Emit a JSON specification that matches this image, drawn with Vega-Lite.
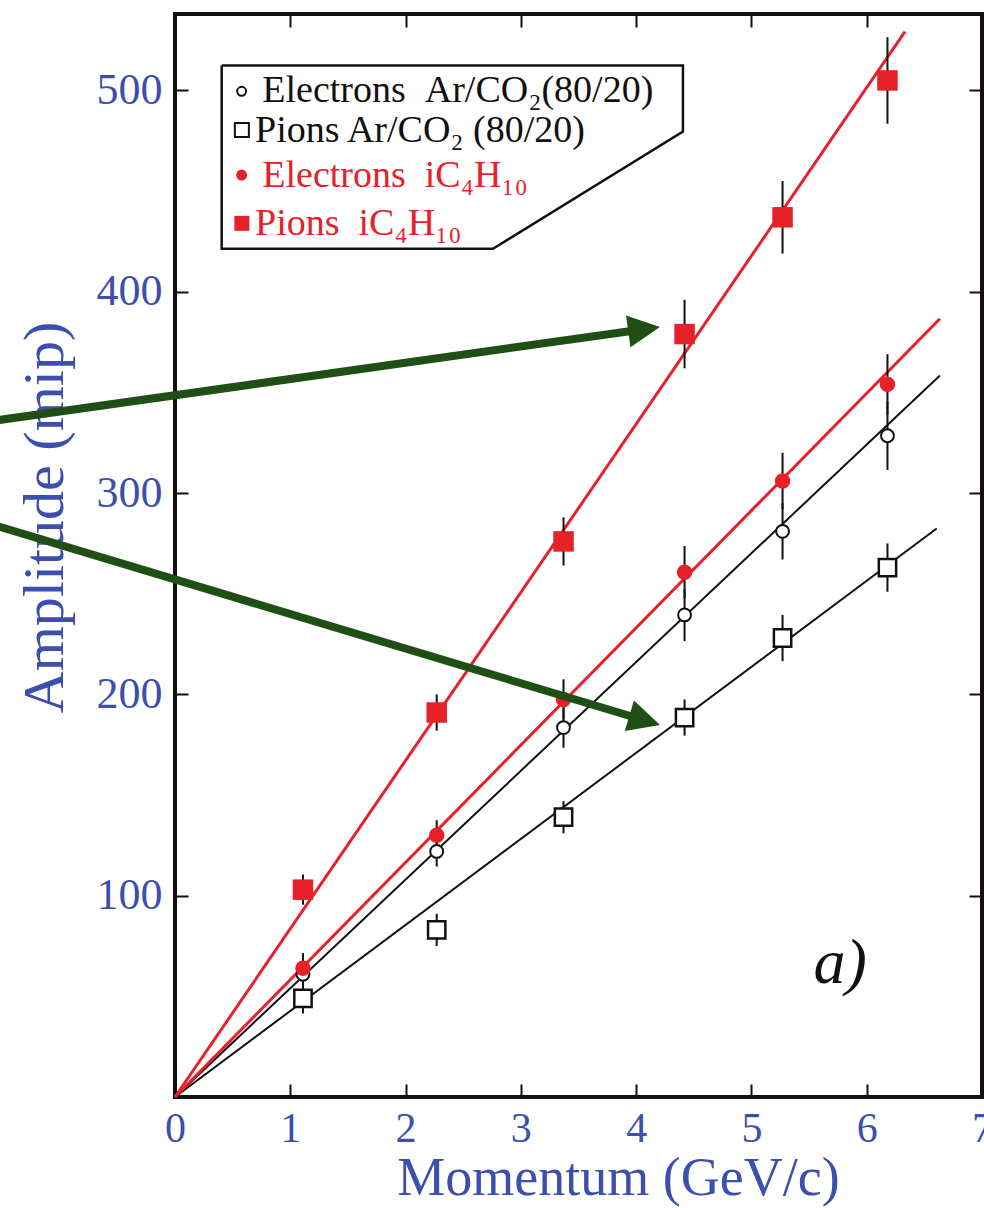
{
  "$schema": "https://vega.github.io/schema/vega-lite/v6.json",
  "width": 807,
  "height": 1083,
  "autosize": "none",
  "padding": {"left": 175, "top": 14, "right": 2, "bottom": 111},
  "background": "white",
  "config": {"view": {"stroke": "#151010", "strokeWidth": 4}, "font": "Liberation Serif"},
  "datasets": {
    "fits": [
      {"s": "eAr", "g": "Ar", "x": 0, "y": 0}, {"s": "eAr", "g": "Ar", "x": 6.635, "y": 358.4},
      {"s": "pAr", "g": "Ar", "x": 0, "y": 0}, {"s": "pAr", "g": "Ar", "x": 6.607, "y": 282.4},
      {"s": "eIso", "g": "Iso", "x": 0, "y": 0}, {"s": "eIso", "g": "Iso", "x": 6.635, "y": 386.6},
      {"s": "pIso", "g": "Iso", "x": 0, "y": 0}, {"s": "pIso", "g": "Iso", "x": 6.332, "y": 529.2}
    ],
    "pts": [
      {"s": "eAr", "x": 1.11, "y": 61, "lo": 54, "hi": 68},
      {"s": "eAr", "x": 2.27, "y": 122, "lo": 114.5, "hi": 129.5},
      {"s": "eAr", "x": 3.37, "y": 183.5, "lo": 173.5, "hi": 193.5},
      {"s": "eAr", "x": 4.42, "y": 239.5, "lo": 226.5, "hi": 252.5},
      {"s": "eAr", "x": 5.27, "y": 281, "lo": 267, "hi": 295},
      {"s": "eAr", "x": 6.18, "y": 328.5, "lo": 311.5, "hi": 345.5},
      {"s": "pAr", "x": 1.11, "y": 49, "lo": 41.5, "hi": 56.5},
      {"s": "pAr", "x": 2.27, "y": 83, "lo": 75, "hi": 91},
      {"s": "pAr", "x": 3.37, "y": 139, "lo": 131, "hi": 147},
      {"s": "pAr", "x": 4.42, "y": 188.5, "lo": 179.5, "hi": 197.5},
      {"s": "pAr", "x": 5.27, "y": 228, "lo": 216.5, "hi": 239.5},
      {"s": "pAr", "x": 6.18, "y": 263, "lo": 251, "hi": 275},
      {"s": "eIso", "x": 1.11, "y": 64, "lo": 56.5, "hi": 71.5},
      {"s": "eIso", "x": 2.27, "y": 130, "lo": 122.5, "hi": 137.5},
      {"s": "eIso", "x": 3.37, "y": 197.5, "lo": 187.5, "hi": 207.5},
      {"s": "eIso", "x": 4.42, "y": 260.7, "lo": 247.7, "hi": 273.7},
      {"s": "eIso", "x": 5.27, "y": 306, "lo": 292, "hi": 320},
      {"s": "eIso", "x": 6.18, "y": 354, "lo": 339, "hi": 369},
      {"s": "pIso", "x": 1.11, "y": 103, "lo": 95.5, "hi": 110.5},
      {"s": "pIso", "x": 2.27, "y": 191, "lo": 182, "hi": 200},
      {"s": "pIso", "x": 3.37, "y": 276, "lo": 264, "hi": 288},
      {"s": "pIso", "x": 4.42, "y": 379, "lo": 362, "hi": 396},
      {"s": "pIso", "x": 5.27, "y": 437, "lo": 419, "hi": 455},
      {"s": "pIso", "x": 6.18, "y": 505, "lo": 483.5, "hi": 526.5}
    ],
    "box": [
      {"i": 0, "x": 0.405, "y": 512.4},
      {"i": 1, "x": 4.406, "y": 512.4},
      {"i": 2, "x": 4.406, "y": 479.6},
      {"i": 3, "x": 2.758, "y": 421.4},
      {"i": 4, "x": 0.405, "y": 421.4},
      {"i": 5, "x": 0.405, "y": 512.4}
    ],
    "legsym": [
      {"s": "eAr", "x": 0.578, "y": 499.6},
      {"s": "pAr", "x": 0.58, "y": 480.4},
      {"s": "eIso", "x": 0.578, "y": 458},
      {"s": "pIso", "x": 0.58, "y": 434}
    ],
    "legtxt": [
      {"g": "Ar", "x": 0.757, "y": 494.2, "t": "Electrons\u00a0\u00a0Ar/CO₂(80/20)"},
      {"g": "Ar", "x": 0.694, "y": 474.6, "t": "Pions Ar/CO₂ (80/20)"},
      {"g": "Iso", "x": 0.757, "y": 452.1, "t": "Electrons\u00a0\u00a0iC₄H₁₀"},
      {"g": "Iso", "x": 0.694, "y": 428.3, "t": "Pions\u00a0\u00a0iC₄H₁₀"}
    ],
    "arrows": [
      {"a": 1, "x": -1.6, "y": 335.7}, {"a": 1, "x": 3.99, "y": 380.8},
      {"a": 2, "x": -1.6, "y": 284.6}, {"a": 2, "x": 3.999, "y": 188.4}
    ],
    "heads": [
      {"a": 1, "x": 4.069, "y": 381.4},
      {"a": 2, "x": 4.074, "y": 187.1}
    ],
    "ann": [{"x": 5.77, "y": 56.7, "t": "a)"}]
  },
  "resolve": {"axis": {"x": "independent", "y": "independent"}},
  "layer": [
    {
      "data": {"name": "fits"},
      "transform": [{"filter": "datum.g === 'Ar'"}],
      "mark": {"type": "line", "color": "#111111", "strokeWidth": 2},
      "encoding": {
        "x": {"field": "x", "type": "quantitative", "scale": {"domain": [0, 7], "nice": false, "zero": false},
          "axis": {"values": [0, 1, 2, 3, 4, 5, 6, 7], "format": "d", "labelFont": "Liberation Serif", "labelFontSize": 42, "labelColor": "#3c4fae",
            "tickSize": -13, "tickColor": "#111111", "tickWidth": 2, "labelPadding": 24, "domain": false, "grid": false, "labelFlush": false, "labelOverlap": false,
            "title": "Momentum (GeV/c)", "titleFont": "Liberation Serif", "titleFontSize": 54, "titleFontWeight": "normal", "titleColor": "#3c4fae",
            "titleX": 443, "titleY": 97, "titleAlign": "center", "titleBaseline": "alphabetic"}},
        "y": {"field": "y", "type": "quantitative", "scale": {"domain": [0, 538], "nice": false, "zero": false},
          "axis": {"values": [100, 200, 300, 400, 500], "format": "d", "labelFont": "Liberation Serif", "labelFontSize": 44, "labelColor": "#3c4fae",
            "tickSize": -13, "tickColor": "#111111", "tickWidth": 2, "labelPadding": 26, "domain": false, "grid": false, "labelOverlap": false,
            "title": "Amplitude (mip)", "titleFont": "Liberation Serif", "titleFontSize": 58, "titleFontWeight": "normal", "titleColor": "#3c4fae",
            "titleX": -113, "titleY": 503, "titleAngle": 270, "titleAlign": "center", "titleBaseline": "alphabetic"}},
        "detail": {"field": "s"}
      }
    },
    {
      "data": {"name": "fits"},
      "transform": [{"filter": "datum.g === 'Iso'"}],
      "mark": {"type": "line", "color": "#e62129", "strokeWidth": 3},
      "encoding": {
        "x": {"field": "x", "type": "quantitative", "scale": {"domain": [0, 7], "nice": false, "zero": false},
          "axis": {"orient": "top", "values": [1, 2, 3, 4, 5, 6], "labels": false, "tickSize": -13, "tickColor": "#111111", "tickWidth": 2, "domain": false, "grid": false, "title": null}},
        "y": {"field": "y", "type": "quantitative", "scale": {"domain": [0, 538], "nice": false, "zero": false},
          "axis": {"orient": "right", "values": [100, 200, 300, 400, 500], "labels": false, "tickSize": -13, "tickColor": "#111111", "tickWidth": 2, "domain": false, "grid": false, "title": null}},
        "detail": {"field": "s"}
      }
    },
    {
      "data": {"name": "pts"},
      "mark": {"type": "rule", "color": "#111111", "strokeWidth": 2},
      "encoding": {
        "x": {"field": "x", "type": "quantitative", "scale": {"domain": [0, 7], "nice": false, "zero": false}, "axis": null},
        "y": {"field": "lo", "type": "quantitative", "scale": {"domain": [0, 538], "nice": false, "zero": false}, "axis": null},
        "y2": {"field": "hi"}
      }
    },
    {
      "data": {"name": "pts"},
      "transform": [{"filter": "datum.s === 'pAr'"}],
      "mark": {"type": "point", "shape": "square", "filled": true, "fill": "white", "stroke": "#111111", "strokeWidth": 2.5, "size": 300, "opacity": 1},
      "encoding": {
        "x": {"field": "x", "type": "quantitative", "scale": {"domain": [0, 7], "nice": false, "zero": false}, "axis": null},
        "y": {"field": "y", "type": "quantitative", "scale": {"domain": [0, 538], "nice": false, "zero": false}, "axis": null}
      }
    },
    {
      "data": {"name": "pts"},
      "transform": [{"filter": "datum.s === 'eAr'"}],
      "mark": {"type": "point", "shape": "circle", "filled": true, "fill": "white", "stroke": "#111111", "strokeWidth": 2, "size": 165, "opacity": 1},
      "encoding": {
        "x": {"field": "x", "type": "quantitative", "scale": {"domain": [0, 7], "nice": false, "zero": false}, "axis": null},
        "y": {"field": "y", "type": "quantitative", "scale": {"domain": [0, 538], "nice": false, "zero": false}, "axis": null}
      }
    },
    {
      "data": {"name": "pts"},
      "transform": [{"filter": "datum.s === 'eIso'"}],
      "mark": {"type": "point", "shape": "circle", "filled": true, "fill": "#e62129", "strokeWidth": 0, "size": 240, "opacity": 1},
      "encoding": {
        "x": {"field": "x", "type": "quantitative", "scale": {"domain": [0, 7], "nice": false, "zero": false}, "axis": null},
        "y": {"field": "y", "type": "quantitative", "scale": {"domain": [0, 538], "nice": false, "zero": false}, "axis": null}
      }
    },
    {
      "data": {"name": "pts"},
      "transform": [{"filter": "datum.s === 'pIso'"}],
      "mark": {"type": "point", "shape": "square", "filled": true, "fill": "#e62129", "strokeWidth": 0, "size": 420, "opacity": 1},
      "encoding": {
        "x": {"field": "x", "type": "quantitative", "scale": {"domain": [0, 7], "nice": false, "zero": false}, "axis": null},
        "y": {"field": "y", "type": "quantitative", "scale": {"domain": [0, 538], "nice": false, "zero": false}, "axis": null}
      }
    },
    {
      "data": {"name": "box"},
      "mark": {"type": "line", "color": "#111111", "strokeWidth": 2.5},
      "encoding": {
        "x": {"field": "x", "type": "quantitative", "scale": {"domain": [0, 7], "nice": false, "zero": false}, "axis": null},
        "y": {"field": "y", "type": "quantitative", "scale": {"domain": [0, 538], "nice": false, "zero": false}, "axis": null},
        "order": {"field": "i", "type": "quantitative"}
      }
    },
    {
      "data": {"name": "legsym"},
      "transform": [{"filter": "datum.s === 'eAr'"}],
      "mark": {"type": "point", "shape": "circle", "filled": true, "fill": "white", "stroke": "#111111", "strokeWidth": 2, "size": 80, "opacity": 1},
      "encoding": {
        "x": {"field": "x", "type": "quantitative", "scale": {"domain": [0, 7], "nice": false, "zero": false}, "axis": null},
        "y": {"field": "y", "type": "quantitative", "scale": {"domain": [0, 538], "nice": false, "zero": false}, "axis": null}
      }
    },
    {
      "data": {"name": "legsym"},
      "transform": [{"filter": "datum.s === 'pAr'"}],
      "mark": {"type": "point", "shape": "square", "filled": true, "fill": "white", "stroke": "#111111", "strokeWidth": 2, "size": 196, "opacity": 1},
      "encoding": {
        "x": {"field": "x", "type": "quantitative", "scale": {"domain": [0, 7], "nice": false, "zero": false}, "axis": null},
        "y": {"field": "y", "type": "quantitative", "scale": {"domain": [0, 538], "nice": false, "zero": false}, "axis": null}
      }
    },
    {
      "data": {"name": "legsym"},
      "transform": [{"filter": "datum.s === 'eIso'"}],
      "mark": {"type": "point", "shape": "circle", "filled": true, "fill": "#e62129", "strokeWidth": 0, "size": 120, "opacity": 1},
      "encoding": {
        "x": {"field": "x", "type": "quantitative", "scale": {"domain": [0, 7], "nice": false, "zero": false}, "axis": null},
        "y": {"field": "y", "type": "quantitative", "scale": {"domain": [0, 538], "nice": false, "zero": false}, "axis": null}
      }
    },
    {
      "data": {"name": "legsym"},
      "transform": [{"filter": "datum.s === 'pIso'"}],
      "mark": {"type": "point", "shape": "square", "filled": true, "fill": "#e62129", "strokeWidth": 0, "size": 225, "opacity": 1},
      "encoding": {
        "x": {"field": "x", "type": "quantitative", "scale": {"domain": [0, 7], "nice": false, "zero": false}, "axis": null},
        "y": {"field": "y", "type": "quantitative", "scale": {"domain": [0, 538], "nice": false, "zero": false}, "axis": null}
      }
    },
    {
      "data": {"name": "legtxt"},
      "mark": {"type": "text", "align": "left", "baseline": "alphabetic", "font": "Liberation Serif", "fontSize": 38},
      "encoding": {
        "x": {"field": "x", "type": "quantitative", "scale": {"domain": [0, 7], "nice": false, "zero": false}, "axis": null},
        "y": {"field": "y", "type": "quantitative", "scale": {"domain": [0, 538], "nice": false, "zero": false}, "axis": null},
        "text": {"field": "t"},
        "color": {"field": "g", "type": "nominal", "scale": {"domain": ["Ar", "Iso"], "range": ["#111111", "#e62129"]}, "legend": null}
      }
    },
    {
      "data": {"name": "arrows"},
      "mark": {"type": "line", "color": "#1f4f14", "strokeWidth": 8, "strokeCap": "butt"},
      "encoding": {
        "x": {"field": "x", "type": "quantitative", "scale": {"domain": [0, 7], "nice": false, "zero": false}, "axis": null},
        "y": {"field": "y", "type": "quantitative", "scale": {"domain": [0, 538], "nice": false, "zero": false}, "axis": null},
        "detail": {"field": "a"}
      }
    },
    {
      "data": {"name": "heads"},
      "transform": [{"filter": "datum.a === 1"}],
      "mark": {"type": "point", "shape": "M-1,-1L1,0L-1,1Z", "filled": true, "fill": "#1f4f14", "strokeWidth": 0, "size": 1024, "angle": 352, "opacity": 1},
      "encoding": {
        "x": {"field": "x", "type": "quantitative", "scale": {"domain": [0, 7], "nice": false, "zero": false}, "axis": null},
        "y": {"field": "y", "type": "quantitative", "scale": {"domain": [0, 538], "nice": false, "zero": false}, "axis": null}
      }
    },
    {
      "data": {"name": "heads"},
      "transform": [{"filter": "datum.a === 2"}],
      "mark": {"type": "point", "shape": "M-1,-1L1,0L-1,1Z", "filled": true, "fill": "#1f4f14", "strokeWidth": 0, "size": 1024, "angle": 16.7, "opacity": 1},
      "encoding": {
        "x": {"field": "x", "type": "quantitative", "scale": {"domain": [0, 7], "nice": false, "zero": false}, "axis": null},
        "y": {"field": "y", "type": "quantitative", "scale": {"domain": [0, 538], "nice": false, "zero": false}, "axis": null}
      }
    },
    {
      "data": {"name": "ann"},
      "mark": {"type": "text", "align": "center", "baseline": "alphabetic", "font": "Liberation Serif", "fontStyle": "italic", "fontSize": 64, "color": "#111111"},
      "encoding": {
        "x": {"field": "x", "type": "quantitative", "scale": {"domain": [0, 7], "nice": false, "zero": false}, "axis": null},
        "y": {"field": "y", "type": "quantitative", "scale": {"domain": [0, 538], "nice": false, "zero": false}, "axis": null},
        "text": {"field": "t"}
      }
    }
  ]
}
